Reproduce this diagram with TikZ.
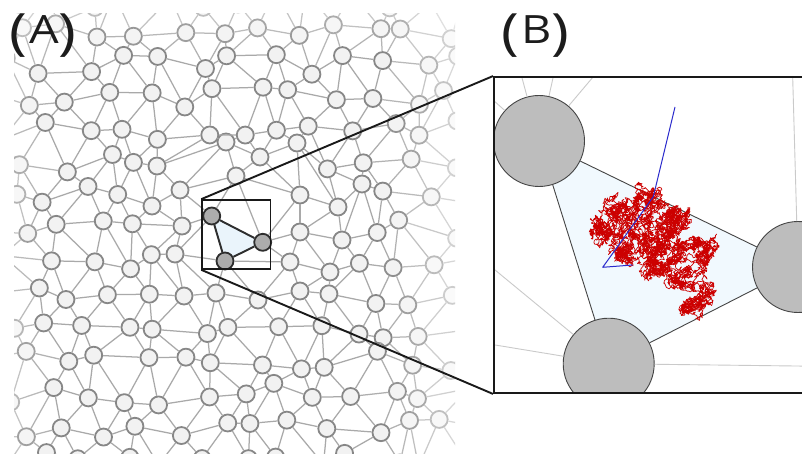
\documentclass[tikz,border=0pt]{standalone}
\usepackage{graphicx}
\usepackage{fontspec}
\setmainfont{Open Sans}
\definecolor{nodefill}{HTML}{F2F2F2}
\definecolor{nodeline}{HTML}{878787}
\definecolor{edgeline}{HTML}{A9A9A9}
\definecolor{hubfill}{HTML}{ACACAC}
\definecolor{hubline}{HTML}{2E2E2E}
\definecolor{cellblue}{HTML}{EAF4FB}
\definecolor{cellblueB}{HTML}{F1F9FE}
\definecolor{bigfill}{HTML}{BDBDBD}
\definecolor{bigline}{HTML}{454545}
\definecolor{faint}{HTML}{CACACA}
\definecolor{walkred}{HTML}{CC0000}
\definecolor{pathblue}{HTML}{2A2ACC}
\definecolor{labelink}{HTML}{1C1C1C}
\colorlet{curline}{nodeline}
\colorlet{curfill}{nodefill}

% lattice link between two named nodes, shade taken from both ends
\newcommand\netlink[4]{%
  \pgfmathtruncatemacro\fe{0.5*(\csname fd-#1-#2\endcsname+\csname fd-#3-#4\endcsname)}%
  \draw[link, draw=edgeline!\fe!white] (n-#1-#2) -- (n-#3-#4);}
% fixed positions for some lattice sites (row, column, "x,y")
\newcommand\pinsite[3]{\expandafter\def\csname pos-#1-#2\endcsname{#3}}
\newcommand\pinhub[3]{\pinsite{#1}{#2}{#3}\expandafter\def\csname hub-#1-#2\endcsname{}}
\def\splitxy#1,#2\relax{\def\nx{#1}\def\ny{#2}}
\pinsite{5}{5}{157,166}
\pinsite{5}{6}{226,142}
\pinsite{5}{7}{260,157}
\pinsite{5}{8}{297,143}
\pinsite{6}{5}{152,206}
\pinsite{6}{6}{180,190}
\pinsite{6}{7}{236,176}
\pinsite{6}{8}{300,195}
\pinsite{6}{9}{338,207}
\pinsite{6}{10}{362,184}
\pinsite{7}{5}{182,226}
\pinhub{7}{6}{211.7,216}
\pinhub{7}{7}{262.7,242.3}
\pinsite{7}{8}{300,232}
\pinsite{7}{9}{342,240}
\pinsite{8}{6}{175,254}
\pinhub{8}{7}{225,261}
\pinsite{8}{8}{290,262}
\pinsite{8}{9}{330,272}
\pinsite{9}{5}{184,296}
\pinsite{9}{6}{216,293}
\pinsite{9}{7}{258,300}
\pinsite{9}{8}{300,291}
% panel letter with tall, low-set brackets
\newcommand\panelmark[1]{\scalebox{1.2}[1]{%
  {\fontsize{50}{50}\selectfont\raisebox{-6.7pt}{(}}\kern1.5pt
  {\fontsize{39}{39}\selectfont#1}%
  {\fontsize{50}{50}\selectfont\raisebox{-6.7pt}{)}}}}

\begin{document}
\begin{tikzpicture}[x=1pt, y=-1pt,
  dot/.style={circle, minimum size=17pt, inner sep=0pt, line width=1.8pt, draw=curline, fill=curfill},
  hub/.style={circle, minimum size=17pt, inner sep=0pt, line width=1.8pt, draw=hubline, fill=hubfill},
  link/.style={line width=1.25pt},
  cellside/.style={line width=1.9pt, draw=hubline},
  bighub/.style={circle, minimum size=91pt, inner sep=0pt, line width=0.9pt, draw=bigline, fill=bigfill},
  faintlink/.style={line width=0.9pt, draw=faint},
  bigside/.style={line width=0.9pt, draw=bigline},
  zoomline/.style={line width=1.9pt, draw=black!90},
  walk/.style={line width=0.7pt, draw=walkred, line join=round},
  bluepath/.style={line width=1pt, draw=pathblue, line join=round},
  panel/.style={text=labelink, inner sep=0pt, anchor=base west}
]
\useasboundingbox (0,0) rectangle (802,454);
\fill[white] (0,0) rectangle (802,454);

% ---------- panel A: packed network ----------
\pgfmathsetseed{20231}
\begin{scope}
  \clip (14,14) rectangle (455,455);
  \fill[cellblue] (211.7,216) -- (262.7,242.3) -- (225,261) -- cycle;
  \foreach \rr in {0,...,14}{
    \foreach \cc in {0,...,13}{
      \pgfmathsetmacro\nx{-28.5+38*\cc+19*mod(\rr,2)+11*rand}
      \pgfmathsetmacro\ny{-2+33*\rr+11*rand}
      \ifcsname pos-\rr-\cc\endcsname
        \expandafter\expandafter\expandafter\splitxy\csname pos-\rr-\cc\endcsname\relax
      \fi
      \pgfmathtruncatemacro\fd{100*(1-0.6*max(0,min(1,((\nx)-385)/70)))*(1-0.45*max(0,min(1,(45-(\ny))/30)))*(1-0.4*max(0,min(1,(40-(\nx))/26)))}
      \expandafter\xdef\csname fd-\rr-\cc\endcsname{\fd}
      \colorlet{curline}{nodeline!\fd!white}
      \colorlet{curfill}{nodefill!\fd!white}
      \ifcsname hub-\rr-\cc\endcsname \node[hub] (n-\rr-\cc) at (\nx,\ny) {};
      \else \node[dot] (n-\rr-\cc) at (\nx,\ny) {};\fi
    }
  }
  \foreach \rr in {0,...,14}{
    \foreach \cc in {0,...,13}{
      \pgfmathtruncatemacro\cright{\cc+1}
      \pgfmathtruncatemacro\cleft{\cc-1}
      \pgfmathtruncatemacro\rdown{\rr+1}
      \ifnum\cc<13 \netlink{\rr}{\cc}{\rr}{\cright}\fi
      \ifnum\rr<14
        \ifodd\rr
          \netlink{\rr}{\cc}{\rdown}{\cc}
          \ifnum\cc<13 \netlink{\rr}{\cc}{\rdown}{\cright}\fi
        \else
          \ifnum\cc>0 \netlink{\rr}{\cc}{\rdown}{\cleft}\fi
          \netlink{\rr}{\cc}{\rdown}{\cc}
        \fi
      \fi
    }
  }
  \draw[cellside] (n-7-6) -- (n-7-7);
  \draw[cellside] (n-7-7) -- (n-8-7);
  \draw[cellside] (n-8-7) -- (n-7-6);
\end{scope}

% ---------- panel B: enlarged cell ----------
\begin{scope}
  \clip (494,77) rectangle (806,393);
  \coordinate (pA) at (539,141);
  \coordinate (pB) at (798,267);
  \coordinate (pC) at (608.7,363.7);
  \fill[cellblueB] (pA) -- (pB) -- (pC) -- cycle;
  \node[bighub] (bA) at (pA) {};
  \node[bighub] (bB) at (pB) {};
  \node[bighub] (bC) at (pC) {};
  \coordinate (fA1) at (517.2,60);
  \coordinate (fA2) at (557,60);
  \coordinate (fA3) at (607.4,60);
  \coordinate (fA4) at (480,88.4);
  \coordinate (fB1) at (792.2,60);
  \coordinate (fC1) at (480,257.6);
  \coordinate (fC2) at (480,342.5);
  \coordinate (fC3) at (820,366.3);
  \draw[faintlink] (bA) -- (fA1);
  \draw[faintlink] (bA) -- (fA2);
  \draw[faintlink] (bA) -- (fA3);
  \draw[faintlink] (bA) -- (fA4);
  \draw[faintlink] (bB) -- (fB1);
  \draw[faintlink] (bC) -- (fC1);
  \draw[faintlink] (bC) -- (fC2);
  \draw[faintlink] (bC) -- (fC3);
  \draw[bigside] (bA) -- (bB);
  \draw[bigside] (bB) -- (bC);
  \draw[bigside] (bC) -- (bA);
  % random walk of the tracer: sweeps back and forth along way points
  \def\wtx{{592,600,606,612,620,622,615,628,632,636,640,655,652,645,648,662,668,678,684,672,660,645,660,675,690,706,708,694,678,668,684,704,706,690,680,700}}
  \def\wty{{236,222,240,210,198,225,252,262,240,212,195,197,218,238,255,240,215,208,222,232,255,268,272,255,245,243,260,266,272,286,288,282,300,305,310,314}}
  \xdef\wx{628}\xdef\wy{235}
  \foreach \chunk in {8,...,200}{
    \pgfmathtruncatemacro\k{abs(mod(\chunk,70)-35)}
    \pgfmathsetmacro\tx{\wtx[\k]}
    \pgfmathsetmacro\ty{\wty[\k]}
    \edef\sx{\wx}\edef\sy{\wy}
    \gdef\seg{}
    \foreach \s in {1,...,40}{
      \pgfmathsetmacro\nx{\wx+2.8*rand+0.05*(\tx-\wx)}
      \pgfmathsetmacro\ny{\wy+2.8*rand+0.05*(\ty-\wy)}
      \xdef\seg{\seg -- (\nx,\ny)}
      \xdef\wx{\nx}\xdef\wy{\ny}
    }
    \draw[walk] (\sx,\sy) \seg;
  }
  \draw[bluepath] (675,107) -- (653.3,196.7) -- (602.7,267.3) -- (632.7,265);
\end{scope}

% ---------- zoom frame ----------
\node[draw=black!90, line width=1.6pt, minimum width=68.5pt, minimum height=69pt, inner sep=0pt] (zoombox) at (236.25,234.5) {};
\node[draw=black!90, line width=1.9pt, minimum width=312pt, minimum height=316pt, inner sep=0pt] (frame) at (650,235) {};
\draw[zoomline] (zoombox.north west) -- (frame.north west);
\draw[zoomline] (zoombox.south west) -- (frame.south west);

\node[panel] (labA) at (9.4,43.3) {\panelmark{A}};
\node[panel] (labB) at (501.4,43.3) {\panelmark{B}};
\end{tikzpicture}
\end{document}
